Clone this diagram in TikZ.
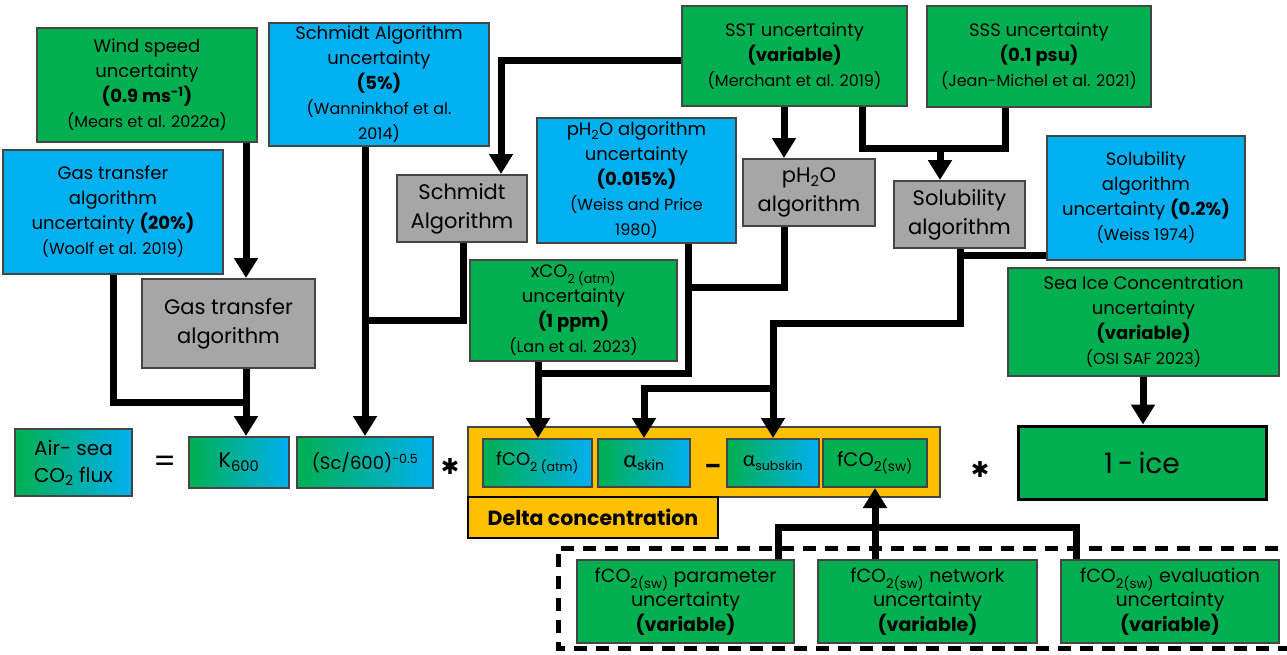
\documentclass[tikz,border=0pt]{standalone}
\usepackage{fontspec}
\setmainfont{Poppins}
\newfontfamily\grk{Lato}
\newfontfamily\djv{DejaVu Sans}
\usetikzlibrary{arrows.meta,calc}
\definecolor{cgreen}{HTML}{00B050}
\definecolor{cblue}{HTML}{00B0F0}
\definecolor{cgray}{HTML}{A6A6A6}
\definecolor{corange}{HTML}{FFC000}
\definecolor{cborder}{HTML}{454545}
\newcommand\myfs[2]{\fontsize{#1pt}{#2pt}\selectfont}
\newcommand\mycite[1]{{\myfs{16}{22}#1}}
\begin{document}
\begin{tikzpicture}[x=1pt,y=-1pt,
  box/.style={draw=cborder, line width=2pt, align=center, inner sep=0pt, font=\myfs{18}{25}},
  gbox/.style={box, fill=cgreen},
  bbox/.style={box, fill=cblue},
  graybox/.style={box, fill=cgray, font=\myfs{21}{29}},
  grad/.style={box, left color=cgreen, right color=cblue},
  conn/.style={line width=7pt, black},
  arr/.style={conn, -{Triangle[width=23pt,length=20pt]}},
  sym/.style={inner sep=0pt}
]
\useasboundingbox (0,0) rectangle (1287,654);
% dashed group
\draw[line width=5pt, dash pattern=on 13pt off 9pt] (1300,548) -- (558,548) -- (558,648) -- (1300,648);
% top uncertainty boxes
\node[gbox, minimum width=220pt, minimum height=114pt] (wind) at (147,85)
  {Wind speed\\uncertainty\\\textbf{(0.9 ms\textsuperscript{-1})}\\\mycite{(Mears et al. 2022a)}};
\node[bbox, minimum width=220pt, minimum height=123pt] (schunc) at (379,84.5)
  {Schmidt Algorithm\\uncertainty\\\textbf{(5\%)}\\\mycite{(Wanninkhof et al.}\\\mycite{2014)}};
\node[bbox, minimum width=220pt, minimum height=124pt] (gasunc) at (113,212)
  {Gas transfer\\algorithm\\uncertainty \textbf{(20\%)}\\\mycite{(Woolf et al. 2019)}};
\node[gbox, minimum width=225pt, minimum height=100pt] (sst) at (794.5,56)
  {SST uncertainty\\\textbf{(variable)}\\\mycite{(Merchant et al. 2019)}};
\node[gbox, minimum width=224pt, minimum height=101pt] (sss) at (1039,56.5)
  {SSS uncertainty\\\textbf{(0.1 psu)}\\\mycite{(Jean-Michel et al. 2021)}};
\node[graybox, minimum width=130pt, minimum height=67pt] (schalg) at (462,208.5)
  {Schmidt\\Algorithm};
\node[bbox, minimum width=199pt, minimum height=125pt] (phunc) at (636.5,180.5)
  {pH\textsubscript{2}O algorithm\\uncertainty\\\textbf{(0.015\%)}\\\mycite{(Weiss and Price}\\\mycite{1980)}};
\node[graybox, minimum width=132pt, minimum height=67pt] (phalg) at (809,192.5)
  {pH\textsubscript{2}O\\algorithm};
\node[graybox, minimum width=131pt, minimum height=67pt] (solalg) at (959.5,214.5)
  {Solubility\\algorithm};
\node[bbox, minimum width=198pt, minimum height=124pt] (solunc) at (1146,198)
  {Solubility\\algorithm\\uncertainty \textbf{(0.2\%)}\\\mycite{(Weiss 1974)}};
\node[graybox, minimum width=173pt, minimum height=89pt] (gasalg) at (228.5,323.5)
  {Gas transfer\\algorithm};
\node[gbox, minimum width=207pt, minimum height=101pt] (xco2) at (573.5,310.5)
  {xCO\textsubscript{2 (atm)}\\uncertainty\\\textbf{(1 ppm)}\\\mycite{(Lan et al. 2023)}};
\node[gbox, minimum width=271pt, minimum height=108pt] (seaice) at (1143.5,322)
  {Sea Ice Concentration\\uncertainty\\\textbf{(variable)}\\\mycite{(OSI SAF 2023)}};
% equation row
\node[grad, minimum width=117pt, minimum height=67pt, font=\myfs{20}{27}] (flux) at (73.5,462.5)
  {Air- sea\\CO\textsubscript{2} flux};
\node[sym, font=\myfs{32}{32}] (eq) at (165,464) {=};
\node[grad, minimum width=100pt, minimum height=51pt, font=\myfs{21}{22}] (k600) at (239,462.5)
  {K\textsubscript{600}};
\node[grad, minimum width=136pt, minimum height=51pt, font=\myfs{18}{22}] (sc) at (365,462.5)
  {(Sc/600)\textsuperscript{-0.5}};
\node[sym, font=\djv\myfs{22}{22}] (star1) at (450,466) {✱};
\node[draw=cborder, line width=1.5pt, fill=corange, minimum width=472pt, minimum height=70pt, inner sep=0pt] (delta) at (704,462) {};
\node[draw=black, line width=2pt, fill=corange, minimum width=250pt, minimum height=41pt, inner sep=0pt, font=\myfs{20.5}{22}\bfseries] (deltalabel) at (593,517.5)
  {Delta concentration};
\node[grad, minimum width=109pt, minimum height=48pt, font=\myfs{18}{22}] (fatm) at (537.5,463)
  {fCO\textsubscript{2 (atm)}};
\node[grad, minimum width=92pt, minimum height=48pt, font=\myfs{20}{22}] (askin) at (644,463)
  {{\grk\myfs{23}{22}α}\textsubscript{skin}};
\node[sym, font=\myfs{24}{24}\bfseries] (minus) at (713,469) {–};
\node[grad, minimum width=92pt, minimum height=48pt, font=\myfs{18}{22}] (asub) at (773,463)
  {{\grk\myfs{21}{22}α}\textsubscript{subskin}};
\node[gbox, minimum width=104pt, minimum height=48pt, font=\myfs{19.5}{22}] (fsw) at (875,463)
  {fCO\textsubscript{2(sw)}};
\node[sym, font=\djv\myfs{22}{22}] (star2) at (980,469) {✱};
\node[draw=black, line width=3pt, fill=cgreen, minimum width=248pt, minimum height=73pt, inner sep=0pt, font=\myfs{28}{30}] (ice) at (1142,462.5)
  {1\hspace{0.18em}-\hspace{0.18em}ice};
% bottom group
\node[gbox, minimum width=217pt, minimum height=83pt, font=\myfs{19}{24.5}] (param) at (685.5,601.5)
  {fCO\textsubscript{2(sw)} parameter\\uncertainty\\\textbf{(variable)}};
\node[gbox, minimum width=219pt, minimum height=83pt, font=\myfs{19}{24.5}] (network) at (927.5,601.5)
  {fCO\textsubscript{2(sw)} network\\uncertainty\\\textbf{(variable)}};
\node[gbox, minimum width=218pt, minimum height=83pt, font=\myfs{19}{24.5}] (eval) at (1170,601.5)
  {fCO\textsubscript{2(sw)} evaluation\\uncertainty\\\textbf{(variable)}};
% connectors
\draw[arr] (wind.south -| 246,0) -- (gasalg.north -| 246,0);
\draw[conn] (gasunc.south -| 113,0) |- (246,402);
\draw[arr] (gasalg.south -| 246,0) -- (k600.north -| 246,0);
\draw[arr] (schunc.south -| 365,0) -- (sc.north -| 365,0);
\draw[conn] (schalg.south -| 463,0) |- (365,320);
\draw[arr] (sst.west |- 0,60) -| (schalg.north -| 501,0);
\draw[arr] (sst.south -| 784,0) -- (phalg.north -| 784,0);
\draw[conn] (sst.south -| 862,0) -- (862,148) -- (1005,148) -- (sss.south -| 1005,0);
\draw[arr] (940,148) -- (solalg.north -| 940,0);
\draw[conn] (phalg.south -| 784,0) |- (688,287);
\draw[conn] (phunc.south -| 688,0) |- (538,373);
\draw[arr] (xco2.south -| 538,0) -- (fatm.north -| 538,0);
\draw[conn] (solunc.west |- 0,255) -- (960,255);
\draw[arr] (solalg.south -| 960,0) |- (773,323) -- (asub.north -| 773,0);
\draw[arr] (773,388) -| (askin.north -| 644,0);
\draw[arr] (seaice.south -| 1143,0) -- (ice.north -| 1143,0);
\draw[arr] (network.north -| 875,0) -- (fsw.south -| 875,0);
\draw[conn] (param.north -| 778,0) |- (1076,527) -- (eval.north -| 1076,0);
\end{tikzpicture}
\end{document}
